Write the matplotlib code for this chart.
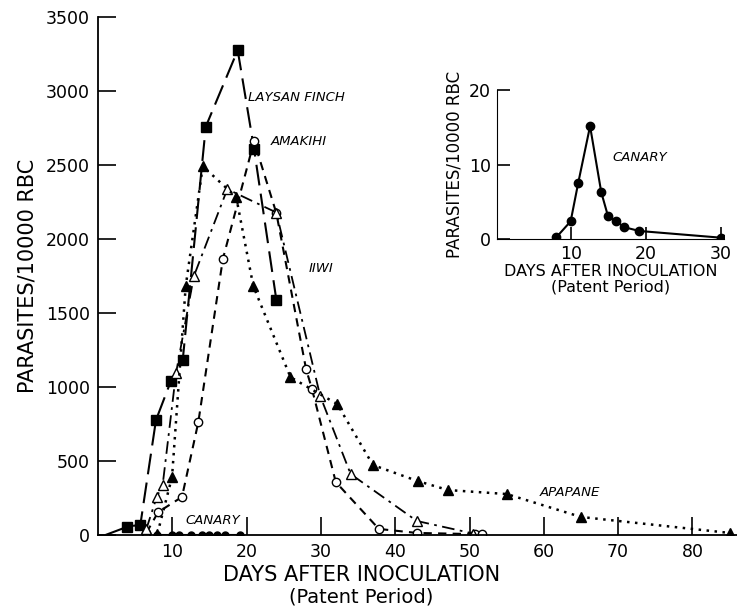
import matplotlib.pyplot as plt

# days after inoculation / parasites per 10000 RBC
finch_day = [1, 3.9, 5.7, 7.8, 9.8, 11.4, 14.5, 18.8, 21, 24]
finch_val = [0, 55, 70, 777, 1040, 1182, 2760, 3277, 2610, 1590]

amakihi_day = [6.5, 8.1, 11.3, 13.5, 16.8, 21, 24, 28, 28.8, 32, 37.8, 42.9, 50.7, 51.7]
amakihi_val = [14, 155, 257, 763, 1865, 2662, 2176, 1122, 986, 358, 41, 14, 6, 5]

iiwi_day = [6.5, 7.9, 8.7, 10.5, 12.9, 17.4, 24, 29.9, 34, 42.9, 50.5]
iiwi_val = [40, 257, 338, 1095, 1750, 2338, 2180, 940, 412, 95, 10]

apapane_day = [8, 9.96, 11.8, 14.1, 18.6, 20.9, 25.9, 32.2, 37, 43, 47.1, 55, 65, 85]
apapane_val = [10, 392, 1682, 2493, 2284, 1682, 1067, 885, 473, 365, 304, 277, 122, 14]

canary_day = [8, 9.9, 10.9, 12.5, 14, 14.9, 16, 17.1, 19.1, 30]
canary_val = [0.27, 2.4, 7.5, 15.2, 6.3, 3.1, 2.4, 1.6, 1.1, 0.2]

main_yticks = [0, 500, 1000, 1500, 2000, 2500, 3000, 3500]
main_xticks = [10, 20, 30, 40, 50, 60, 70, 80]

plt.rcParams['font.family'] = 'DejaVu Sans'
fig = plt.figure(figsize=(7.37, 6.07), dpi=100)
ax = fig.add_axes([0.133, 0.1186, 0.867, 0.853])

ax.plot(finch_day, finch_val, color='black', lw=1.5, dashes=(10, 4),
        marker='s', ms=7, markevery=list(range(1, len(finch_day))))
ax.plot(amakihi_day, amakihi_val, color='black', lw=1.5, dashes=(4, 3),
        marker='o', ms=6, mfc='white', mec='black')
ax.plot(iiwi_day, iiwi_val, color='black', lw=1.3, dashes=(7, 3, 1.5, 3),
        marker='^', ms=7, mfc='white', mec='black')
ax.plot(apapane_day, apapane_val, color='black', lw=1.8, linestyle=(0, (1, 2.2)),
        marker='^', ms=7)
ax.plot(canary_day[:-1], [v * 0 for v in canary_val[:-1]], color='black', lw=1.5,
        marker='o', ms=5)

ax.set_xlim(0, 86)
ax.set_ylim(0, 3500)
ax.set_xticks(main_xticks)
ax.set_yticks(main_yticks)
ax.tick_params(direction='in', length=13, width=1.2, labelsize=12.5, pad=6)
for s in ['top', 'right']:
    ax.spines[s].set_visible(False)
for s in ['left', 'bottom']:
    ax.spines[s].set_linewidth(1.3)

ax.set_ylabel('PARASITES/10000 RBC', fontsize=15, labelpad=6)
fig.text(0.49, 0.053, 'DAYS AFTER INOCULATION', fontsize=15, ha='center', va='center')
fig.text(0.49, 0.016, '(Patent Period)', fontsize=14, ha='center', va='center')

lab = dict(fontsize=9.5, style='italic')
ax.text(20.2, 2960, 'LAYSAN FINCH', va='center', **lab)
ax.text(23.3, 2662, 'AMAKIHI', va='center', **lab)
ax.text(28.4, 1800, 'IIWI', va='center', **lab)
ax.text(59.5, 284, 'APAPANE', va='center', **lab)
ax.text(11.8, 95, 'CANARY', va='center', **lab)

# inset with canary only
ins = fig.add_axes([0.674, 0.606, 0.309, 0.245])
ins.plot(canary_day, canary_val, color='black', lw=1.5, marker='o', ms=6)
ins.set_xlim(0, 30.5)
ins.set_ylim(0, 20)
ins.set_xticks([10, 20, 30])
ins.set_yticks([0, 10, 20])
ins.tick_params(direction='in', length=9, width=1.2, labelsize=12.5, pad=4)
for s in ['top', 'right']:
    ins.spines[s].set_visible(False)
ins.set_ylabel('PARASITES/10000 RBC', fontsize=12, labelpad=4)
ins.set_xlabel('DAYS AFTER INOCULATION\n(Patent Period)', fontsize=11.5, labelpad=1,
               linespacing=1.05)
ins.text(15.5, 10.5, 'CANARY', **lab)

fig.savefig('out.png', dpi=100)
